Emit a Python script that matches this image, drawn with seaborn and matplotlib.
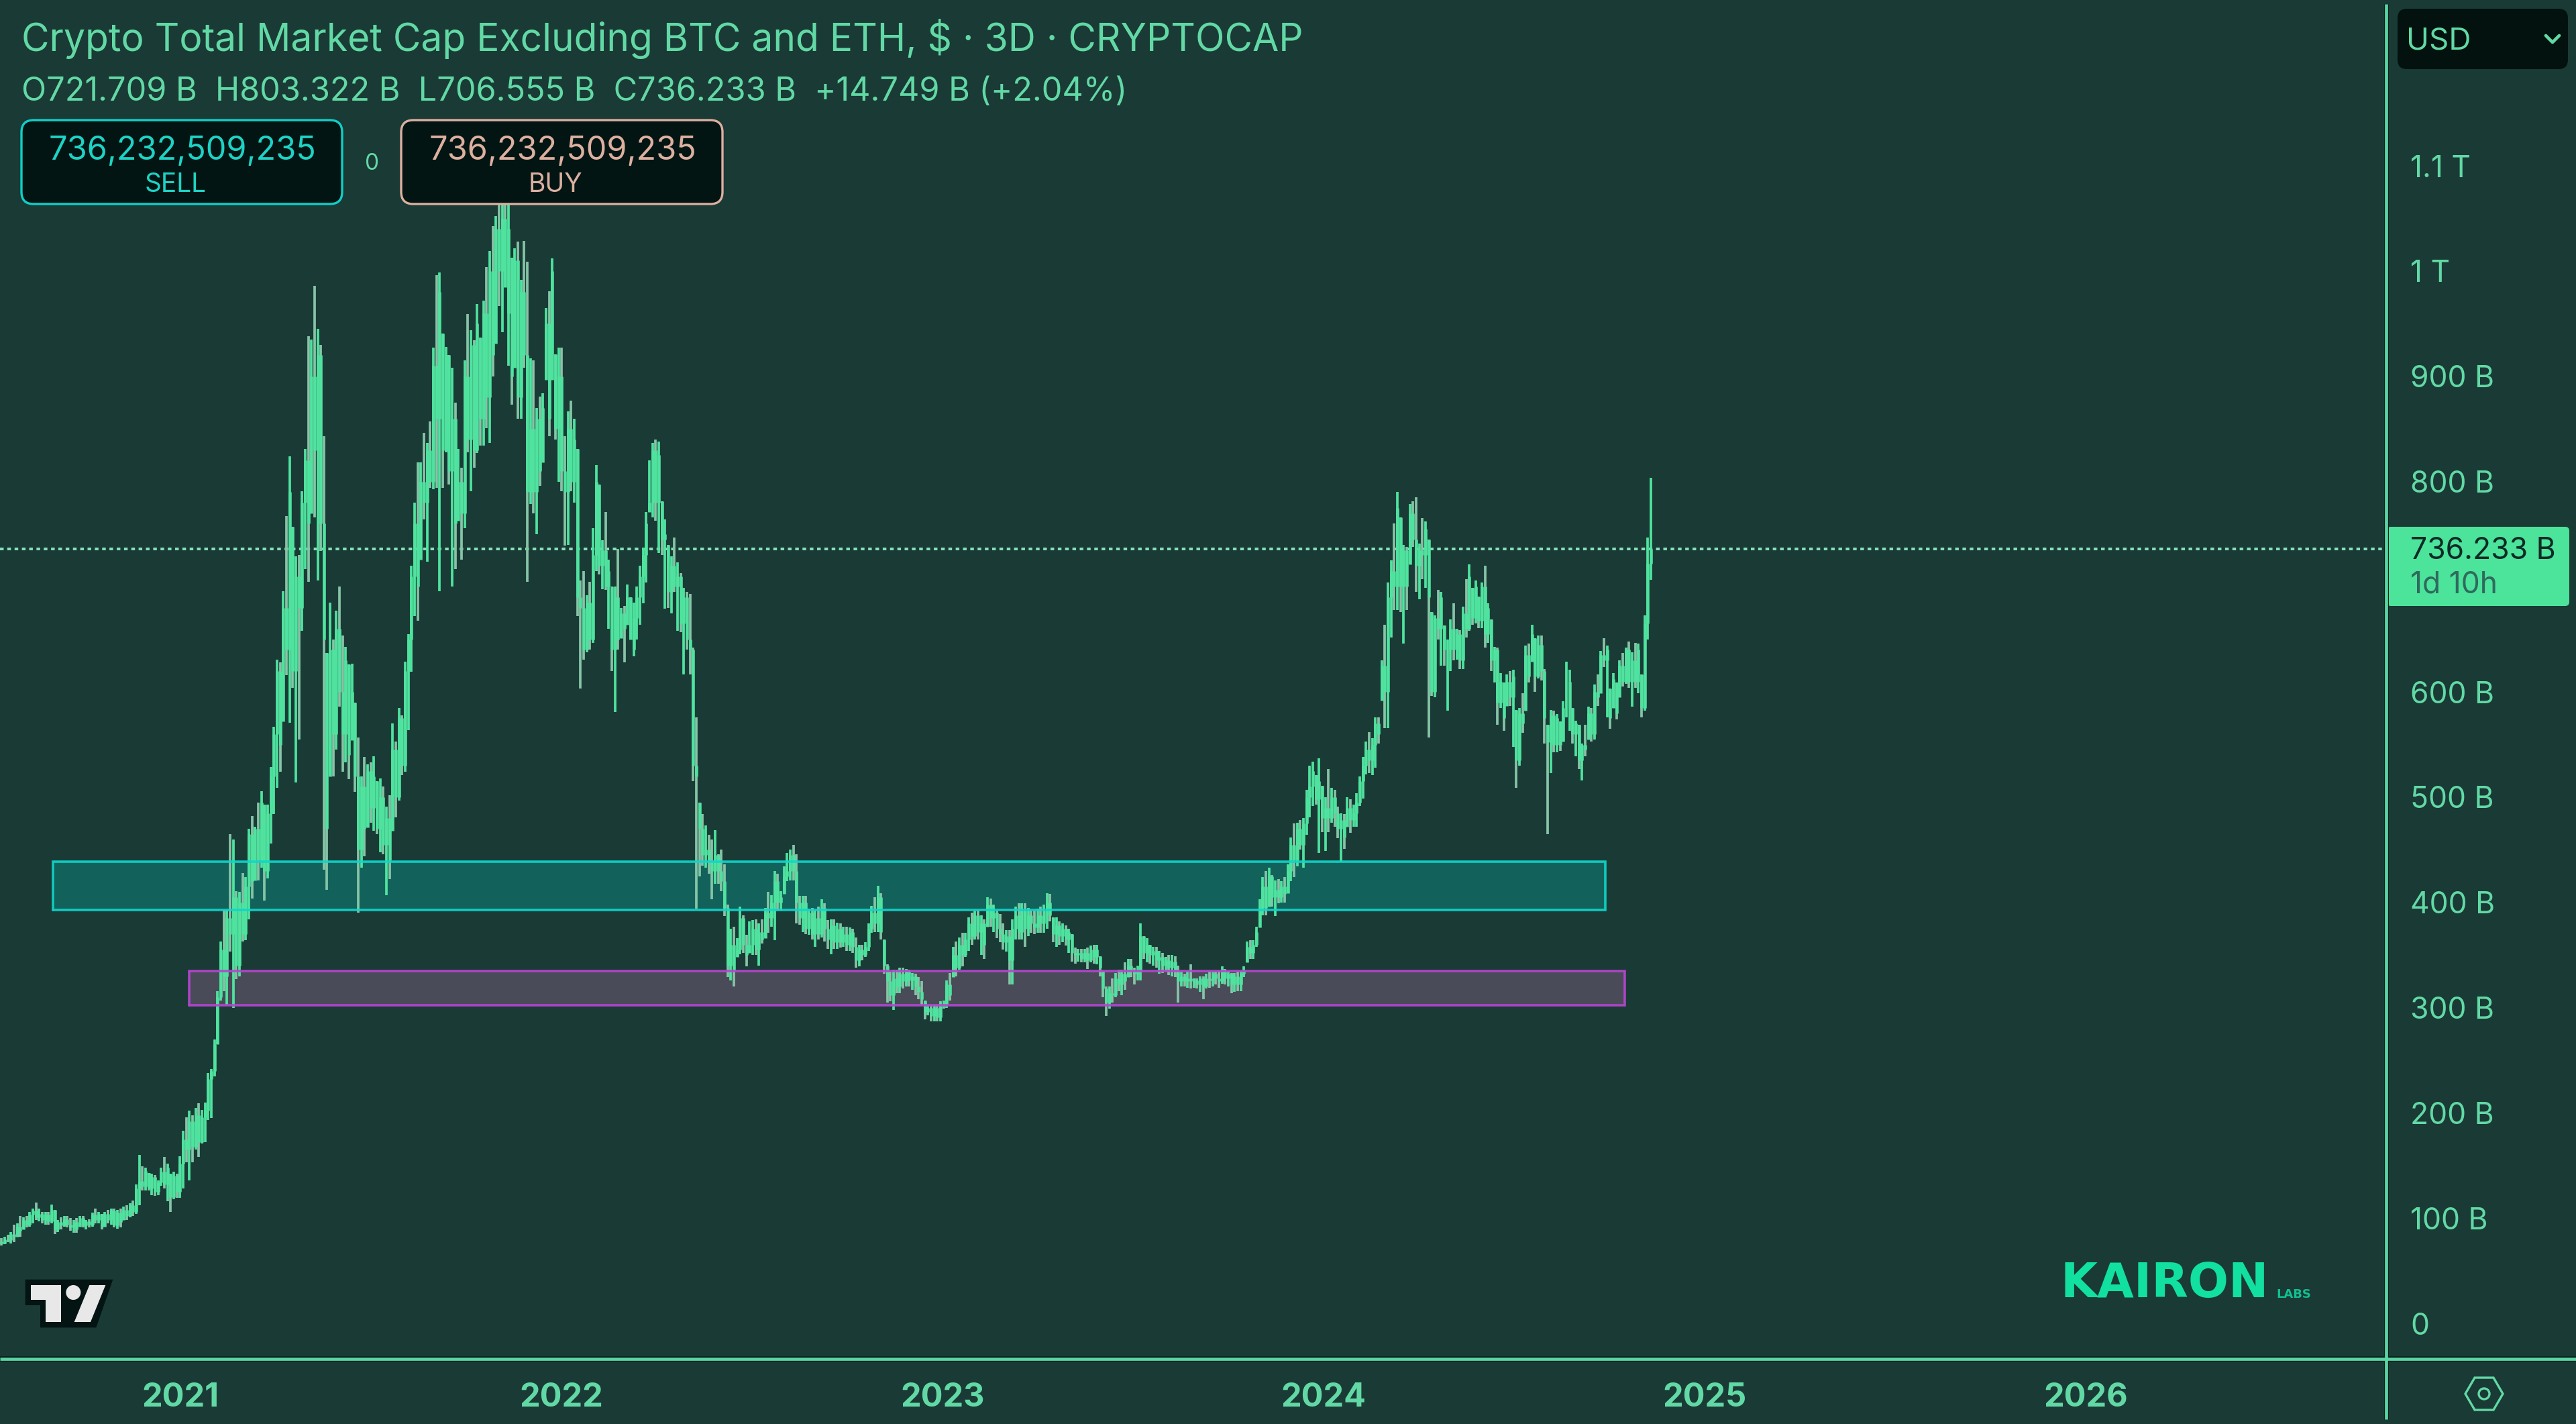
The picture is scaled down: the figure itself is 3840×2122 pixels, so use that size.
import numpy as np
import pandas as pd
import matplotlib
matplotlib.use("Agg")
import matplotlib.pyplot as plt
from matplotlib.patches import FancyBboxPatch, Polygon, Circle
import seaborn as sns

BG = "#1a3a36"
GREEN = "#4fe39f"
GRAY = "#86c4a6"
LINE = "#5ad5a1"
TEXT = "#62d9a5"
FONT = ["Inter", "DejaVu Sans"]

# wick highs, billions USD, one value per 3-day bar
highs = [
81,81,82,84,87,94,95,102,101,102,
106,109,115,109,106,106,106,113,108,98,
101,102,102,100,98,100,102,102,98,99,
105,109,106,104,106,108,109,109,108,109,
111,112,114,117,132,160,149,148,143,142,
141,136,148,158,152,142,144,142,159,183,
196,202,198,205,209,203,210,238,242,270,
316,363,393,393,465,460,411,410,428,424,
470,482,472,495,506,493,493,529,567,631,
628,696,767,824,757,729,730,791,831,938,
935,986,945,930,843,637,685,650,677,700,
654,643,626,627,590,557,520,538,531,533,
539,515,518,510,491,502,570,553,585,578,
629,655,720,780,818,818,846,837,857,927,
996,999,941,928,920,908,875,831,813,915,
959,944,934,969,937,972,1004,1019,1043,1052,
1075,1075,1075,1075,1013,1022,1028,992,1029,1009,
917,915,870,881,884,965,981,1012,921,927,
927,843,867,877,860,831,706,715,692,705,
756,816,797,744,771,726,700,700,736,680,
682,702,690,685,700,720,737,771,820,837,
840,838,781,764,740,729,747,723,713,699,
695,693,642,576,495,484,473,464,460,469,
446,450,436,398,375,377,366,396,388,369,
382,383,384,380,384,395,410,407,430,427,
411,434,447,450,455,446,406,406,406,394,
395,393,396,403,399,383,384,384,381,380,
377,377,376,375,367,360,360,362,380,397,
405,416,409,365,341,334,336,336,338,338,
337,336,333,332,329,325,307,303,303,303,
303,306,307,326,333,358,363,367,371,371,
386,390,392,392,388,384,405,404,398,392,
389,380,374,374,384,396,399,399,399,395,
392,392,394,396,398,409,408,386,386,382,
380,378,375,370,357,356,356,356,357,359,
360,360,349,335,320,320,328,333,336,336,
343,346,346,338,340,380,368,366,360,358,
358,354,352,348,350,350,349,340,334,332,
335,341,328,328,330,330,332,334,334,334,
335,339,337,335,333,333,334,335,339,363,
364,364,377,403,424,430,433,426,421,422,
420,424,436,462,475,476,478,480,507,530,
534,521,537,511,500,527,509,507,491,485,
484,500,498,493,504,520,538,553,562,556,
576,576,630,664,704,725,760,790,766,740,
738,779,781,785,741,765,762,745,676,673,
697,695,663,650,669,684,660,659,681,707,
721,699,706,691,704,720,684,669,643,642,
618,609,617,620,621,583,585,599,644,646,
664,651,654,654,622,569,583,582,579,572,
591,629,621,585,573,569,551,569,586,585,
607,617,639,651,644,603,618,609,630,637,
642,648,638,647,646,617,673,747,803.3,
]

# wick lows
lows = [
72,74,75,77,76,77,82,82,89,91,
92,95,98,97,95,94,94,95,85,87,
89,92,91,88,86,86,92,91,89,91,
92,95,95,89,92,95,94,91,90,91,
98,98,101,102,104,112,126,126,126,122,
121,122,131,128,116,106,118,119,119,128,
153,136,153,165,158,171,172,193,195,235,
265,307,316,302,353,300,327,330,363,364,
384,404,421,421,433,402,423,456,484,509,
524,572,616,571,604,514,555,658,717,705,
770,766,706,734,431,412,520,520,545,586,
524,533,517,554,505,390,433,444,471,476,
468,465,448,446,407,422,468,481,497,521,
524,564,619,672,668,726,764,724,794,793,
794,696,794,828,797,700,717,763,726,756,
828,791,813,827,834,834,851,837,900,931,
967,942,985,910,873,908,860,860,908,705,
779,770,750,796,818,897,843,897,840,800,
791,739,740,791,780,672,603,631,638,640,
647,715,712,698,697,660,620,581,640,651,
628,664,650,634,650,664,684,704,771,766,
763,732,730,679,680,675,695,658,657,617,
640,617,515,394,425,435,433,427,403,418,
418,411,387,329,326,320,348,351,352,339,
352,350,350,340,361,366,371,377,364,392,
392,408,420,421,421,380,379,372,370,369,
365,358,365,367,363,356,351,356,356,357,
358,354,354,352,338,339,345,348,354,371,
372,372,365,332,305,306,298,314,314,318,
320,320,317,312,308,303,289,293,287,287,
287,287,299,300,307,329,330,336,339,348,
354,360,365,365,350,346,377,377,372,366,
362,355,353,322,322,365,365,365,358,368,
371,370,371,371,371,375,382,362,358,360,
362,359,352,344,342,344,343,343,337,343,
342,341,330,310,292,299,305,310,316,312,
317,329,329,322,326,326,346,343,342,340,
338,332,333,334,331,330,329,305,320,320,
319,318,319,318,315,308,318,319,320,322,
319,323,322,320,314,315,316,316,329,343,
346,346,358,376,388,388,396,396,387,399,
400,400,409,420,424,434,450,433,464,481,
492,493,447,467,449,467,476,472,461,439,
451,472,466,472,472,492,499,522,523,521,
528,551,592,566,566,652,678,678,676,646,
678,721,738,695,688,707,699,557,596,595,
650,625,625,582,620,630,631,622,622,652,
658,664,665,661,661,642,647,620,609,569,
585,563,587,587,548,509,530,561,582,609,
629,600,613,611,551,465,523,543,543,544,
553,576,563,551,539,527,516,539,555,553,
555,587,599,624,576,565,585,574,595,605,
608,604,586,604,599,576,582,650,706.6,
]

# closes
closes = [
78,76,80,79,85,82,92,88,98,94,
103,107,101,104,98,103,97,108,89,96,
93,99,94,91,96,89,100,93,97,94,
103,98,104,92,104,98,107,93,105,96,
108,102,112,106,128,135,130,145,128,139,
125,134,144,132,148,120,140,125,152,175,
165,192,168,198,172,196,202,232,240,265,
310,355,330,385,370,405,340,400,370,415,
465,420,470,440,495,430,485,520,560,620,
550,680,640,790,620,710,680,780,820,760,
900,830,920,760,650,470,640,560,660,600,
560,630,540,600,520,450,510,470,525,490,
520,470,500,455,480,440,545,500,575,530,
620,650,710,760,700,800,780,830,800,910,
860,980,830,920,810,860,760,800,770,900,
840,930,830,950,860,960,880,1000,920,1040,
1000,1050,960,1040,900,1010,880,980,920,790,
850,790,860,810,870,950,860,1000,850,900,
810,790,850,800,840,690,680,640,685,650,
730,800,720,735,700,715,640,690,650,675,
660,690,640,670,690,710,730,760,780,830,
780,825,745,750,695,720,700,710,665,690,
650,640,530,520,470,445,450,440,430,445,
430,420,395,340,360,335,355,385,360,350,
360,375,355,372,365,390,385,400,420,400,
405,425,430,445,430,400,385,400,375,390,
370,385,370,395,375,365,378,362,375,362,
370,360,372,358,345,355,350,358,375,390,
380,405,372,340,325,312,328,320,332,325,
334,326,330,320,315,308,296,300,292,300,
291,302,303,322,312,350,338,360,350,365,
380,368,388,372,380,360,398,385,390,375,
370,362,368,345,375,388,372,392,375,388,
380,376,388,380,392,400,388,370,378,368,
375,365,372,352,350,352,346,352,345,355,
348,355,338,318,305,314,312,328,322,332,
325,340,335,332,335,368,352,360,350,354,
345,348,340,345,338,344,335,325,330,325,
328,325,326,322,328,320,328,326,332,328,
325,335,328,332,322,330,322,332,336,358,
352,360,372,395,415,395,425,405,412,405,
415,408,430,455,440,470,455,475,500,510,
525,498,515,480,490,480,500,485,470,478,
462,490,478,485,495,515,530,545,535,550,
570,560,625,600,690,715,700,775,700,735,
700,770,745,720,735,730,755,690,600,670,
660,690,640,640,660,640,655,630,675,660,
710,670,700,668,700,655,680,630,640,590,
610,575,610,595,615,535,580,570,635,615,
655,615,645,620,575,552,578,550,575,550,
585,585,610,560,570,535,550,545,580,560,
600,595,635,630,640,575,612,580,625,610,
640,610,630,610,640,585,665,721.7,736.2,
]

year_ticks = [2021, 2022, 2023, 2024, 2025, 2026]
price_ticks = [0, 100, 200, 300, 400, 500, 600, 800, 900, 1000, 1100]
price_labels = ["0", "100 B", "200 B", "300 B", "400 B", "500 B", "600 B",
                "800 B", "900 B", "1 T", "1.1 T"]
last_close = 736.233
teal_zone = (393, 439)
purple_zone = (302, 335)

sns.set_theme(style="dark", rc={
    "figure.facecolor": BG, "axes.facecolor": BG, "axes.grid": False,
    "savefig.facecolor": BG, "xtick.bottom": False, "ytick.left": False,
})
plt.rcParams["font.family"] = FONT

H = np.array(highs, float)
L = np.array(lows, float)
C = np.array(closes, float)
n = len(C)
O = np.r_[C[0], C[:-1]]
years = 2024.859 - (n - 1 - np.arange(n)) * 3 / 365.25
body_top = np.clip(np.maximum(O, C), L, H)
body_bot = np.clip(np.minimum(O, C), L, H)
kind = np.where(C >= O, "up", "down")

wicks = pd.DataFrame({
    "year": np.r_[years, years], "price": np.r_[L, H],
    "bar": np.r_[np.arange(n), np.arange(n)], "kind": np.r_[kind, kind]})
bodies = pd.DataFrame({
    "year": np.r_[years, years], "price": np.r_[body_bot, body_top],
    "bar": np.r_[np.arange(n), np.arange(n)]})

fig = plt.figure(figsize=(38.4, 21.22), dpi=100)
ax = fig.add_axes([0, (2122 - 2025) / 2122, 3557 / 3840, 2025 / 2122])

ax.fill_between([2020.665, 2024.739], *teal_zone, color="#00d0c0", alpha=0.27, lw=0, zorder=1)
ax.fill_between([2021.023, 2024.790], *purple_zone, color="#d880c0", alpha=0.25, lw=0, zorder=1)
ax.axhline(last_close, color="#86e0b8", lw=2.9, ls=(0, (1.35, 1.35)), zorder=1.5)

sns.lineplot(data=wicks, x="year", y="price", units="bar", hue="kind",
             palette={"up": GREEN, "down": GRAY}, estimator=None, errorbar=None,
             lw=2.7, solid_capstyle="butt", legend=False, ax=ax, zorder=2)
sns.lineplot(data=bodies, x="year", y="price", units="bar", color=GREEN,
             estimator=None, errorbar=None, lw=3.3, solid_capstyle="butt",
             legend=False, ax=ax, zorder=3)

for (x0, x1), (y0, y1), col in [((2020.665, 2024.739), teal_zone, "#0fd6cb"),
                                ((2021.023, 2024.790), purple_zone, "#b645d0")]:
    ax.plot([x0, x1, x1, x0, x0], [y0, y0, y1, y1, y0], color=col, lw=2.6, zorder=4,
            alpha=0.92, solid_joinstyle="miter")

ax.set_xlim(2020.5264, 2026.7887)
ax.set_ylim(-33.8, 1257.65)
ax.set_xlabel("")
ax.set_ylabel("")
ax.set_xticks(year_ticks, [str(y) for y in year_ticks])
ax.yaxis.tick_right()
ax.set_yticks(price_ticks, price_labels)
ax.tick_params(axis="y", length=0, pad=26, labelsize=32, labelcolor=TEXT)
ax.tick_params(axis="x", length=0, pad=25, labelsize=35, labelcolor=TEXT)
for t in ax.get_xticklabels():
    t.set_fontweight("bold")
for s in ax.spines.values():
    s.set_visible(False)

# interface chrome, in pixel coordinates of the image
ov = fig.add_axes([0, 0, 1, 1], zorder=5)
ov.set_xlim(0, 3840)
ov.set_ylim(2122, 0)
ov.axis("off")
ov.patch.set_alpha(0)

ov.plot([0, 3840], [2025, 2025], color="#06201c", lw=5.5, solid_capstyle="butt")
ov.plot([3557, 3557], [6, 2115], color="#06201c", lw=5.0, solid_capstyle="butt")
ov.plot([0, 3840], [2025, 2025], color=LINE, lw=3.4, solid_capstyle="butt")
ov.plot([3557, 3557], [6, 2115], color=LINE, lw=3.4, solid_capstyle="butt")

ov.text(32, 58, "Crypto Total Market Cap Excluding BTC and ETH, $ · 3D · CRYPTOCAP",
        color=TEXT, fontsize=41, va="center", ha="left")
ov.text(32, 137, "O721.709 B  H803.322 B  L706.555 B  C736.233 B  +14.749 B (+2.04%)",
        color=TEXT, fontsize=35, va="center", ha="left")

def box(x0, y0, x1, y1, face, edge, r=18, lw=2.4):
    ov.add_patch(FancyBboxPatch((x0 + r, y0 + r), x1 - x0 - 2 * r, y1 - y0 - 2 * r,
                                boxstyle=f"round,pad={r},rounding_size={r}",
                                fc=face, ec=edge, lw=lw))

box(32, 179, 510, 304, "#031513", "#10cfc8")
box(598, 179, 1077, 304, "#031513", "#dcb0a0")
ov.text(272, 225, "736,232,509,235", color="#1dd3c5", fontsize=35, ha="center", va="center")
ov.text(262, 276, "SELL", color="#1dd3c5", fontsize=28, ha="center", va="center")
ov.text(839, 225, "736,232,509,235", color="#dcb0a0", fontsize=35, ha="center", va="center")
ov.text(828, 276, "BUY", color="#dcb0a0", fontsize=28, ha="center", va="center")
ov.text(555, 244, "0", color=TEXT, fontsize=24, ha="center", va="center")

box(3574, 13, 3828, 103, "#03120f", "#03120f", r=14, lw=0)
ov.text(3587, 62, "USD", color=TEXT, fontsize=33, ha="left", va="center")
ov.plot([3795, 3805, 3815], [53, 63, 53], color=TEXT, lw=3.4)

box(3558, 785, 3830, 903, "#4ce39a", "#4ce39a", r=6, lw=0)
ov.text(3593, 821, "736.233 B", color="#0d2a26", fontsize=32, ha="left", va="center")
ov.text(3593, 872, "1d 10h", color="#2f6a5e", fontsize=32, ha="left", va="center")

ov.text(3071, 1914, "KAIRON", color="#11e0a0", fontsize=51, fontweight="bold",
        family="DejaVu Sans", ha="left", va="center")
ov.text(3393, 1929, "LABS", color="#11c090", fontsize=13, fontweight="bold",
        family="DejaVu Sans", ha="left", va="center")

# chart-platform mark, lower left
def pts(seq):
    return [(x / 3, 1860 + y / 3) for x, y in seq]

ov.add_patch(Polygon(pts([(113, 140), (505, 140), (430, 355), (180, 355), (180, 255), (113, 255)]),
                     closed=True, fc="#041412", ec="none"))
ov.add_patch(Polygon(pts([(137, 165), (272, 165), (272, 330), (205, 330), (205, 232), (137, 232)]),
                     closed=True, fc="#e8e8e8", ec="none"))
ov.add_patch(Polygon(pts([(400, 165), (472, 165), (405, 330), (332, 330)]),
                     closed=True, fc="#e8e8e8", ec="none"))
ov.add_patch(Circle((328 / 3, 1860 + 198 / 3), 11, fc="#e8e8e8", ec="none"))

# settings hexagon, lower right
ov.add_patch(Polygon([(3675, 2077), (3689, 2053), (3717, 2053), (3731, 2077), (3717, 2101), (3689, 2101)],
                     closed=True, fc="none", ec=TEXT, lw=2.4))
ov.add_patch(Circle((3703, 2077), 8, fc="none", ec=TEXT, lw=2.4))

fig.savefig("out.png", dpi=100)
